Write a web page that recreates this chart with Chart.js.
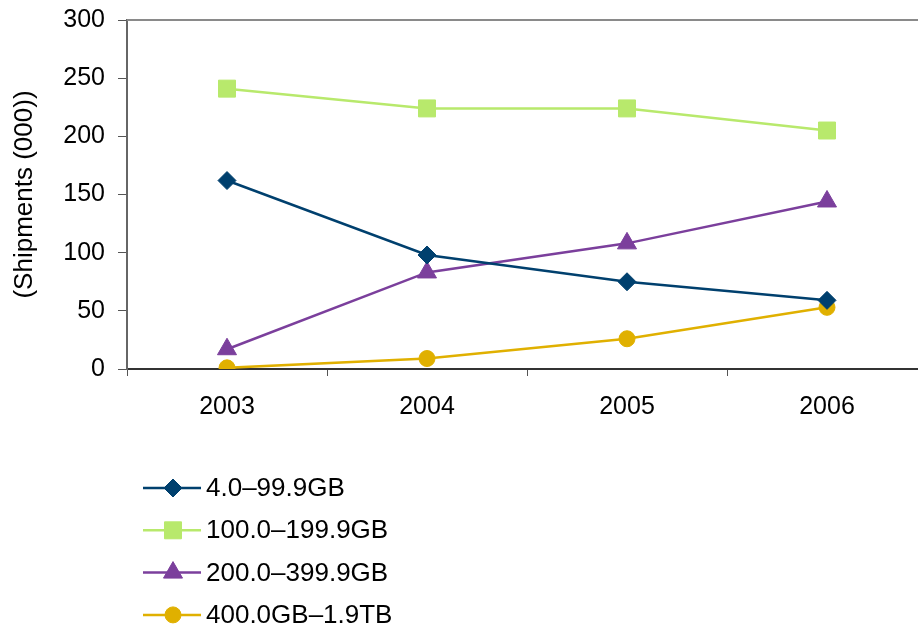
<!DOCTYPE html>
<html lang="en">
<head>
    <meta charset="UTF-8">
    <title>Shipments by capacity</title>
    <script src="https://cdn.jsdelivr.net/npm/chart.js"></script>
    <style>
        html, body { margin: 0; padding: 0; background: #fff; overflow: hidden; }
        #wrap { width: 940px; height: 628px; }
    </style>
</head>
<body>
    <div id="wrap"><canvas id="shipChart" width="940" height="628"></canvas></div>

    <script>
        // Données
        const years = ['2003', '2004', '2005', '2006'];
        const seriesNames = ['4.0\u201399.9GB', '100.0\u2013199.9GB', '200.0\u2013399.9GB', '400.0GB\u20131.9TB'];
        const small = [162, 98, 75, 59];
        const medium = [241, 224, 224, 205];
        const large = [17, 83, 108, 144];
        const huge = [1, 9, 26, 53];
        const yTicks = [0, 50, 100, 150, 200, 250, 300];

        const colors = ['#00406e', '#b8e96c', '#7b3f9c', '#e0b000'];
        const styles = ['rectRot', 'rect', 'triangle', 'circle'];
        const radii = [9, 12, 11, 8];
        const values = [small, medium, large, huge];

        const family = '"Liberation Sans", Arial, sans-serif';
        const tickFont = { family: family, size: 25 };
        const legendSize = 26;

        // Bordure haute de la zone de tracé + légende verticale en bas
        const extras = {
            id: 'extras',
            afterDraw(chart) {
                const ctx = chart.ctx;
                const a = chart.chartArea;
                ctx.save();
                ctx.strokeStyle = '#8a8a8a';
                ctx.lineWidth = 2;
                ctx.beginPath();
                ctx.moveTo(a.left, a.top);
                ctx.lineTo(a.right + 20, a.top);
                ctx.stroke();

                ctx.font = legendSize + 'px ' + family;
                ctx.textBaseline = 'middle';
                ctx.textAlign = 'left';
                chart.data.datasets.forEach((ds, i) => {
                    const y = 488 + i * 42.3;
                    ctx.strokeStyle = ds.borderColor;
                    ctx.lineWidth = 2.5;
                    ctx.beginPath();
                    ctx.moveTo(143, y);
                    ctx.lineTo(201, y);
                    ctx.stroke();
                    ctx.fillStyle = ds.pointBackgroundColor;
                    ctx.strokeStyle = ds.pointBorderColor;
                    ctx.lineWidth = 1;
                    Chart.helpers.drawPoint(ctx, {
                        pointStyle: ds.pointStyle,
                        radius: ds.pointRadius,
                        rotation: 0,
                        borderWidth: 1
                    }, 173, y);
                    ctx.fillStyle = '#000';
                    ctx.fillText(ds.label, 206, y + 1);
                });
                ctx.restore();
            }
        };

        const ctx = document.getElementById('shipChart').getContext('2d');
        const shipChart = new Chart(ctx, {
            type: 'line',
            data: {
                labels: years,
                datasets: values.map((v, i) => ({
                    label: seriesNames[i],
                    data: v,
                    borderColor: colors[i],
                    backgroundColor: colors[i],
                    pointBackgroundColor: colors[i],
                    pointBorderColor: colors[i],
                    borderWidth: 2.5,
                    pointStyle: styles[i],
                    pointRadius: radii[i],
                    pointBorderWidth: 1,
                    tension: 0,
                    fill: false
                }))
            },
            options: {
                responsive: false,
                animation: false,
                layout: { padding: { top: 20, right: 13, left: 0, bottom: 0 } },
                plugins: {
                    legend: { display: false },
                    tooltip: { enabled: false }
                },
                scales: {
                    x: {
                        offset: true,
                        afterFit(scale) { scale.height = 259; },
                        grid: {
                            offset: true,
                            drawOnChartArea: false,
                            drawTicks: true,
                            tickLength: 7,
                            color: '#555'
                        },
                        border: { color: '#333', width: 2 },
                        ticks: { color: '#000', font: tickFont, padding: 16, maxRotation: 0 }
                    },
                    y: {
                        min: 0,
                        max: 300,
                        afterFit(scale) {
                            scale.width = 127;
                            scale.paddingTop = 0;
                            scale.paddingBottom = 0;
                        },
                        afterBuildTicks(scale) { scale.ticks = yTicks.map(v => ({ value: v })); },
                        grid: {
                            drawOnChartArea: false,
                            drawTicks: true,
                            tickLength: 9,
                            color: '#555'
                        },
                        border: { color: '#666', width: 2 },
                        ticks: { color: '#000', font: tickFont, padding: 13 },
                        title: {
                            display: true,
                            text: '(Shipments (000))',
                            color: '#000',
                            font: { family: family, size: 26 },
                            padding: { top: 9, bottom: 0 }
                        }
                    }
                }
            },
            plugins: [extras]
        });
    </script>
</body>
</html>
